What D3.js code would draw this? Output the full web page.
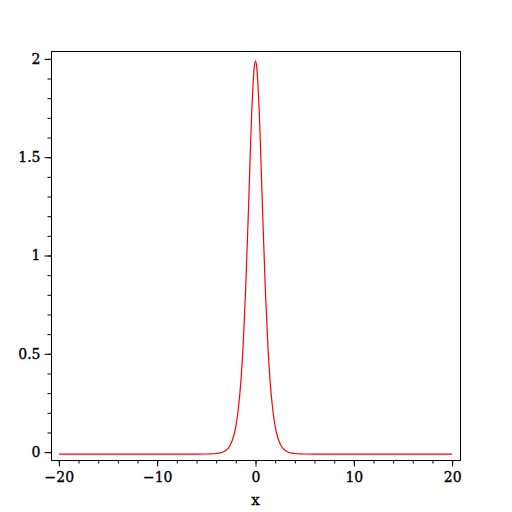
<!DOCTYPE html>
<html><head><meta charset="utf-8">
<script src="https://cdn.jsdelivr.net/npm/d3@7"></script>
<style>body{margin:0;background:#fff}svg{display:block}</style>
</head><body>
<script>
const xValues = [-20,-15,-10,-6,-5,-4.5,-4,-3.5,-3,-2.75,-2.5,-2.25,-2,-1.75,-1.5,-1.25,-1,-0.75,-0.5,-0.375,-0.25,-0.125,0,0.125,0.25,0.375,0.5,0.75,1,1.25,1.5,1.75,2,2.25,2.5,2.75,3,3.5,4,4.5,5,6,10,15,20];
const yValues = [-0.01,-0.01,-0.01,-0.01,-0.0096,-0.0085,-0.007,-0.003,0.010,0.022,0.043,0.077,0.131,0.218,0.351,0.551,0.830,1.183,1.563,1.740,1.870,1.959,1.990,1.959,1.870,1.740,1.563,1.183,0.830,0.551,0.351,0.218,0.131,0.077,0.043,0.022,0.010,-0.003,-0.007,-0.0085,-0.0096,-0.01,-0.01,-0.01,-0.01];
const xMajor = [-20,-10,0,10,20];
const xMajorLabels = ["\u221220","\u221210","0","10","20"];
const yMajor = [0,0.5,1,1.5,2];
const yMajorLabels = ["0","0.5","1","1.5","2"];
const xLabel = "x";

const W = 512, H = 512;
const svg = d3.select("body").append("svg").attr("width", W).attr("height", H);
const x = d3.scaleLinear().domain([-20.8, 20.8]).range([51, 460]);
const y = d3.scaleLinear().domain([-0.04, 2.04]).range([460, 51]);

const font = "DejaVu Serif";

// frame
svg.append("rect").attr("x", 51.5).attr("y", 51.5).attr("width", 409).attr("height", 409)
  .attr("fill", "none").attr("stroke", "#000").attr("stroke-width", 1);

// x axis ticks
const xMinor = d3.range(-20, 20.001, 2);
const xAxisMinor = d3.axisBottom(x).tickValues(xMinor).tickSize(3).tickFormat("");
const gxm = svg.append("g").attr("transform", "translate(0,460.5)").call(xAxisMinor);
const xAxis = d3.axisBottom(x).tickValues(xMajor).tickSize(6).tickPadding(6)
  .tickFormat((d,i) => xMajorLabels[i]);
const gx = svg.append("g").attr("transform", "translate(0,460.5)").call(xAxis);
[gx, gxm].forEach(g => { g.select(".domain").remove(); g.selectAll("line").attr("stroke","#000"); });
gx.selectAll("text").attr("font-family", font).attr("font-size", 14).attr("fill","#000")
  .attr("stroke","#000").attr("stroke-width",0.35);

// y axis ticks
const yMinor = d3.range(0, 2.0001, 0.1);
const yAxisMinor = d3.axisLeft(y).tickValues(yMinor).tickSize(4).tickFormat("");
const gym = svg.append("g").attr("transform", "translate(51.5,0)").call(yAxisMinor);
const yAxis = d3.axisLeft(y).tickValues(yMajor).tickSize(7).tickPadding(4)
  .tickFormat((d,i) => yMajorLabels[i]);
const gy = svg.append("g").attr("transform", "translate(51.5,0)").call(yAxis);
[gy, gym].forEach(g => { g.select(".domain").remove(); g.selectAll("line").attr("stroke","#000"); });
gy.selectAll("text").attr("font-family", font).attr("font-size", 14).attr("fill","#000")
  .attr("stroke","#000").attr("stroke-width",0.35);

// axis label
svg.append("text").attr("x", x(0)).attr("y", 505).attr("text-anchor","middle")
  .attr("font-family", font).attr("font-size", 15).attr("fill","#000")
  .attr("stroke","#000").attr("stroke-width",0.35).text(xLabel);

// curve
const pts = xValues.map((v,i) => [v, yValues[i]]);
svg.append("path").datum(pts)
  .attr("fill","none").attr("stroke","#ff0000").attr("stroke-width",1.2)
  .attr("d", d3.line().x(d => x(d[0])).y(d => y(d[1])).curve(d3.curveMonotoneX));
</script>
</body></html>
